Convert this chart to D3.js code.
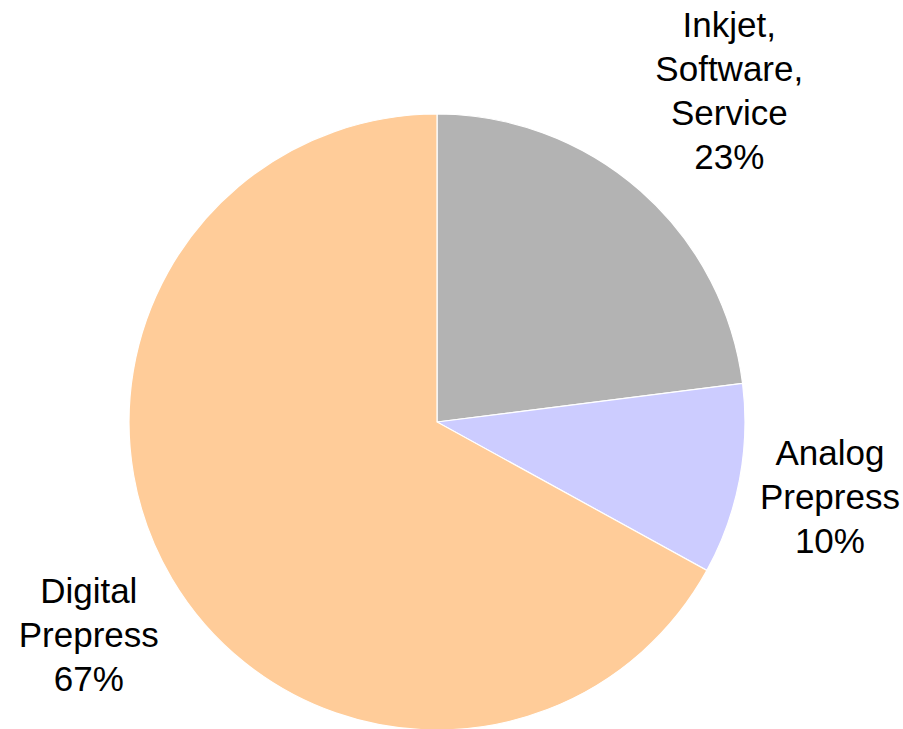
<!DOCTYPE html>
<html>
<head>
<meta charset="utf-8">
<script src="https://cdn.jsdelivr.net/npm/d3@7"></script>
<style>
  body { margin: 0; background: #fff; }
  text { font-family: "Liberation Sans", Arial, sans-serif; fill: #000; }
</style>
</head>
<body>
<svg id="chart" width="903" height="729"></svg>
<script>
var categories = ["Inkjet, Software, Service", "Analog Prepress", "Digital Prepress"];
var values = [23, 10, 67];
var colors = ["#b3b3b3", "#ccccff", "#ffcc99"];

var svg = d3.select("#chart"),
    cx = 437,
    cy = 422,
    radius = 308,
    g = svg.append("g").attr("transform", "translate(" + cx + "," + cy + ")");

var data = categories.map(function(c, i) {
    return { name: c, value: values[i], color: colors[i] };
});

var pie = d3.pie()
    .sort(null)
    .value(function(d) { return d.value; });

var arc = d3.arc().innerRadius(0).outerRadius(radius);

var arcs = pie(data);

g.selectAll(".slice")
    .data(arcs)
    .enter().append("path")
    .attr("class", "slice")
    .attr("d", arc)
    .attr("fill", function(d) { return d.data.color; })
    .attr("stroke", "#fff")
    .attr("stroke-width", 1.2);

// label placement from the centre, per slice (excel "best fit" look)
var labelRadius = [442, 400, 408],
    labelTurn = [0, 0, -0.8]; // degrees off the mid angle
var fontSize = 35,
    lineHeight = 44,
    capHalf = fontSize * 0.716 / 2;

var total = d3.sum(values);

var label = g.selectAll(".label")
    .data(arcs)
    .enter().append("text")
    .attr("class", "label")
    .attr("text-anchor", "middle")
    .style("font-size", fontSize + "px");

label.each(function(d, i) {
    var mid = (d.startAngle + d.endAngle) / 2 + labelTurn[i] * Math.PI / 180,
        x = labelRadius[i] * Math.sin(mid),
        y = -labelRadius[i] * Math.cos(mid);
    var lines = d.data.name.split(" ");
    lines.push(Math.round(d.value / total * 100) + "%");
    var n = lines.length;
    d3.select(this).selectAll("tspan")
        .data(lines)
        .enter().append("tspan")
        .attr("x", x)
        .attr("y", function(l, j) { return y + (j - (n - 1) / 2) * lineHeight + capHalf; })
        .text(function(l) { return l; });
});
</script>
</body>
</html>
